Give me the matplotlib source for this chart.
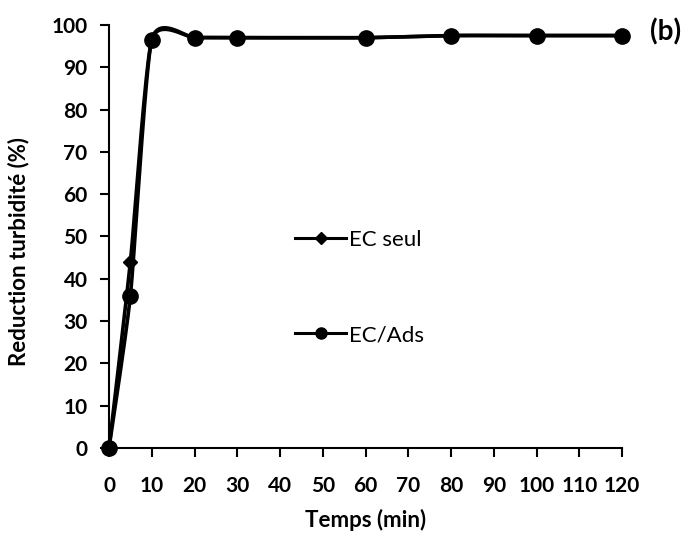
import numpy as np
import matplotlib
matplotlib.use("Agg")
import matplotlib.pyplot as plt
from matplotlib.lines import Line2D

plt.rcParams['font.family'] = ['Lato', 'DejaVu Sans']

temps = [0, 5, 10, 20, 30, 60, 80, 100, 120]
ec_seul = [0, 44, 96.5, 97, 97, 97, 97.5, 97.5, 97.5]
ec_ads = [0, 36, 96.5, 97, 97, 97, 97.5, 97.5, 97.5]
x_ticks = list(range(0, 121, 10))
y_ticks = list(range(0, 101, 10))


def smooth(x, y, tension=0.6, n=40):
    """Cardinal-spline style smoothing through every point."""
    x = np.asarray(x, float)
    y = np.asarray(y, float)
    px = np.concatenate([[x[0]], x, [x[-1]]])
    py = np.concatenate([[y[0]], y, [y[-1]]])
    xs, ys = [], []
    for i in range(1, len(px) - 2):
        p0 = np.array([px[i - 1], py[i - 1]])
        p1 = np.array([px[i], py[i]])
        p2 = np.array([px[i + 1], py[i + 1]])
        p3 = np.array([px[i + 2], py[i + 2]])
        c1 = p1 + tension * (p2 - p0) / 6
        c2 = p2 - tension * (p3 - p1) / 6
        t = np.linspace(0, 1, n)[:, None]
        b = ((1 - t) ** 3) * p1 + 3 * ((1 - t) ** 2) * t * c1 \
            + 3 * (1 - t) * t ** 2 * c2 + t ** 3 * p2
        xs.append(b[:, 0])
        ys.append(b[:, 1])
    return np.concatenate(xs), np.concatenate(ys)


fig = plt.figure(figsize=(6.97, 5.36), dpi=100)
ax = fig.add_axes([0.1564, 0.1642, 0.7360, 0.7892])

lw = 2.6
for y, marker, ms in [(ec_seul, 'D', 7.5), (ec_ads, 'o', 11)]:
    sx, sy = smooth(temps, y)
    ax.plot(sx, sy, color='black', lw=lw, clip_on=False, solid_capstyle='round')
    ax.plot(temps, y, linestyle='none', marker=marker, ms=ms,
            color='black', clip_on=False)

ax.set_xlim(0, 120)
ax.set_ylim(0, 100)
ax.set_xticks(x_ticks)
ax.set_yticks(y_ticks)
for s in ['top', 'right']:
    ax.spines[s].set_visible(False)
for s in ['left', 'bottom']:
    ax.spines[s].set_linewidth(1.5)
ax.tick_params(axis='both', direction='out', length=6.5, width=1.5,
               labelsize=15)
ax.tick_params(axis='x', pad=14)
ax.tick_params(axis='y', pad=9)
for lab in ax.get_xticklabels() + ax.get_yticklabels():
    lab.set_fontweight('bold')

ax.set_xlabel('Temps (min)', fontsize=16, fontweight='bold')
ax.set_ylabel('Reduction turbidité (%)', fontsize=16, fontweight='bold')
ax.xaxis.set_label_coords(0.5, -0.145)
ax.yaxis.set_label_coords(-0.155, 0.465)

handles = [
    Line2D([], [], color='black', lw=2.2, marker='D', ms=6),
    Line2D([], [], color='black', lw=2.2, marker='o', ms=8),
]
ax.legend(handles, ['EC seul', 'EC/Ads'], loc='upper left',
          bbox_to_anchor=(0.395, 0.609), bbox_transform=fig.transFigure,
          frameon=False, fontsize=16, handlelength=2.3, handletextpad=0.1,
          labelspacing=3.4)

fig.text(0.933, 0.94, '(b)', fontsize=20, fontweight='bold',
         ha='left', va='center')

fig.savefig('out.png', dpi=100)
